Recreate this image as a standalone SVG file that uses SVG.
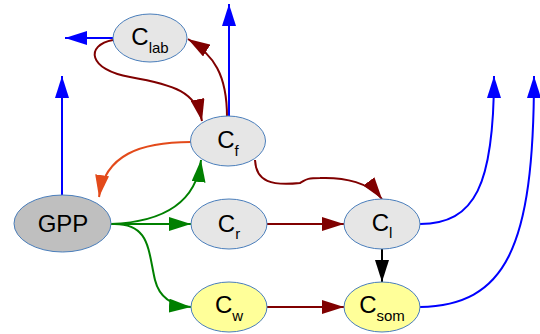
<svg xmlns="http://www.w3.org/2000/svg" width="540" height="334" viewBox="0 0 540 334">
<style>
.n{stroke:#4a7ebb;stroke-width:1}
.g{fill:#e6e6e6}
.y{fill:#ffff99}
.p{fill:#bfbfbf}
text{font-family:"Liberation Sans",Arial,sans-serif;font-size:24px;fill:#000;text-anchor:middle}
.s{font-size:15px}
.c{fill:none;stroke-width:2}
.blue{stroke:#0000ff}
.red{stroke:#800000}
.grn{stroke:#008000}
.org{stroke:#e34a1a}
.blk{stroke:#000}
</style>
<defs>
<marker id="ab" markerUnits="userSpaceOnUse" markerWidth="22" markerHeight="14" refX="22" refY="7" orient="auto"><path d="M0,0 L22,7 L0,14 z" fill="#0000ff"/></marker>
<marker id="ar" markerUnits="userSpaceOnUse" markerWidth="22" markerHeight="14" refX="22" refY="7" orient="auto"><path d="M0,0 L22,7 L0,14 z" fill="#800000"/></marker>
<marker id="ag" markerUnits="userSpaceOnUse" markerWidth="22" markerHeight="14" refX="22" refY="7" orient="auto"><path d="M0,0 L22,7 L0,14 z" fill="#008000"/></marker>
<marker id="ao" markerUnits="userSpaceOnUse" markerWidth="22" markerHeight="14" refX="22" refY="7" orient="auto"><path d="M0,0 L22,7 L0,14 z" fill="#e34a1a"/></marker>
<marker id="ak" markerUnits="userSpaceOnUse" markerWidth="22" markerHeight="14" refX="22" refY="7" orient="auto"><path d="M0,0 L22,7 L0,14 z" fill="#000"/></marker>
</defs>
<g id="connectors">
<path class="c blue" d="M113,38 L65,38" marker-end="url(#ab)"/>
<path class="c blue" d="M229,117 L229,4" marker-end="url(#ab)"/>
<path class="c blue" d="M62,195 L62,76" marker-end="url(#ab)"/>
<path class="c blue" d="M420,224 C475,224 494,185 494,76" marker-end="url(#ab)"/>
<path class="c blue" d="M420,307 C505,305 534,250 534,76" marker-end="url(#ab)"/>
<path class="c red" d="M113,40 C85,45 88,70 130,77 C175,85 196,92 202,121" marker-end="url(#ar)"/>
<path class="c red" d="M227,117 C227,75 214,55 188,39" marker-end="url(#ar)"/>
<path class="c red" d="M255,160 C256,182 272,186 300,183 C306,180 305,178 320,178 C345,177 370,183 382,199" marker-end="url(#ar)"/>
<path class="c red" d="M267,224 L344,224" marker-end="url(#ar)"/>
<path class="c red" d="M267,307 L344,307" marker-end="url(#ar)"/>
<path class="c org" d="M191,142 C140,142 105,155 99,197" marker-end="url(#ao)"/>
<path class="c grn" d="M111,224 C160,222 196,205 201,160" marker-end="url(#ag)"/>
<path class="c grn" d="M111,224 L191,224" marker-end="url(#ag)"/>
<path class="c grn" d="M111,224 C150,222 148,250 155,280 C160,300 175,306 191,307" marker-end="url(#ag)"/>
<path class="c blk" d="M382,249 L382,282" marker-end="url(#ak)"/>
</g>
<g id="Clab"><ellipse class="n g" cx="150" cy="38" rx="37" ry="24"/><text x="150" y="45">C<tspan class="s" dy="8">lab</tspan></text></g>
<g id="Cf"><ellipse class="n g" cx="228" cy="141" rx="37.5" ry="25"/><text x="228" y="148">C<tspan class="s" dy="8">f</tspan></text></g>
<g id="GPP"><ellipse class="n p" cx="62.5" cy="223.5" rx="48.5" ry="28.5"/><text x="63" y="232">GPP</text></g>
<g id="Cr"><ellipse class="n g" cx="229" cy="224" rx="38" ry="25"/><text x="229" y="232">C<tspan class="s" dy="7">r</tspan></text></g>
<g id="Cl"><ellipse class="n g" cx="382" cy="224" rx="38" ry="25"/><text x="382" y="231">C<tspan class="s" dy="7">l</tspan></text></g>
<g id="Cw"><ellipse class="n y" cx="229" cy="307" rx="38" ry="25"/><text x="229" y="313">C<tspan class="s" dy="8">w</tspan></text></g>
<g id="Csom"><ellipse class="n y" cx="382" cy="307" rx="38" ry="25"/><text x="382" y="313">C<tspan class="s" dy="8">som</tspan></text></g>
</svg>
